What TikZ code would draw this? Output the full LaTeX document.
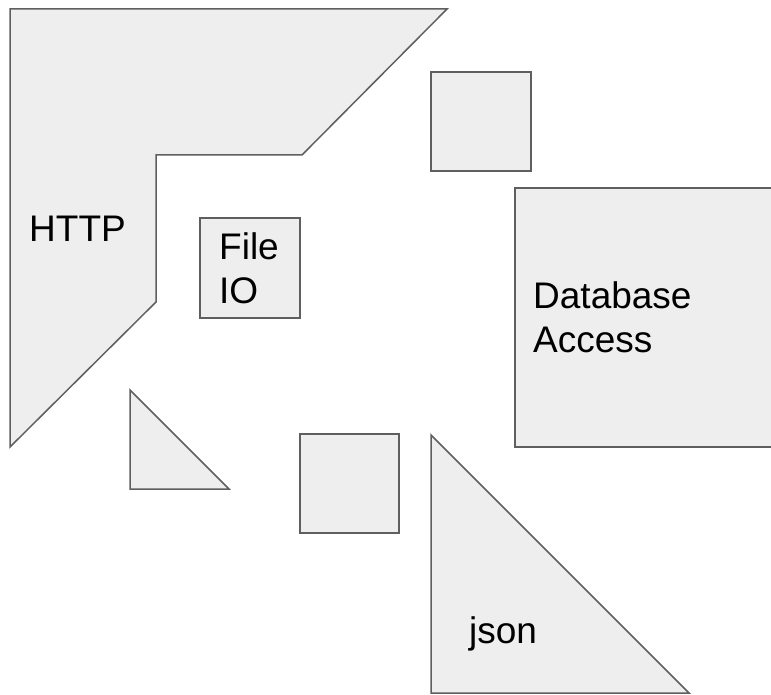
\documentclass[tikz,border=0pt]{standalone}
\usepackage{fontspec}
\setmainfont{Liberation Sans}
\usepackage{tikz}
\usetikzlibrary{positioning}
\definecolor{blockFill}{RGB}{238,238,238}
\definecolor{blockLine}{RGB}{95,95,95}
\begin{document}
\begin{tikzpicture}[x=1pt,y=-1pt,
  block/.style={fill=blockFill, draw=blockLine, line width=1.5pt, line join=miter},
  blocklabel/.style={anchor=base west, inner sep=0pt, align=left, text=black, font=\fontsize{37}{44}\selectfont}]
\useasboundingbox (0,0) rectangle (771,695);
\clip (0,0) rectangle (771,695);
\draw[block] (10,9) -- (447,9) -- (302,155) -- (156,155) -- (156,302) -- (10,447) -- cycle;
\draw[block] (200,218) rectangle (300,318);
\draw[block] (431,72) rectangle (531,171);
\draw[block] (515,188) rectangle (800,447);
\draw[block] (130,390) -- (130,489) -- (229,489) -- cycle;
\draw[block] (300,434) rectangle (399,533);
\draw[block] (431,435) -- (431,693) -- (689,693) -- cycle;
\node[blocklabel] (http) at (29,242) {HTTP};
\node[blocklabel] (fileio) at (219,303) {File\\IO};
\node[blocklabel] (dbaccess) at (533,352) {Database\\Access};
\node[blocklabel] (json) at (469,643) {json};
\end{tikzpicture}
\end{document}
